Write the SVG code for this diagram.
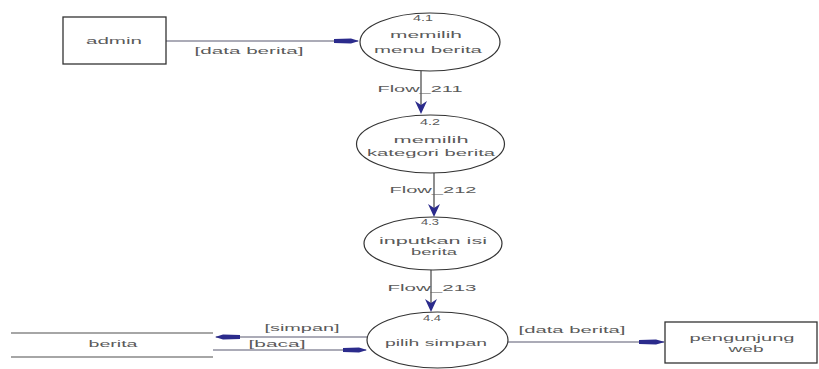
<svg xmlns="http://www.w3.org/2000/svg" width="819" height="369" viewBox="0 0 819 369">
<style>
text{font-family:"Liberation Sans",Arial,sans-serif;font-size:9.5px;fill:#5a5a5a;text-anchor:middle}
.box{fill:#fff;stroke:#333;stroke-width:1.3}
.proc{fill:#fff;stroke:#333;stroke-width:1.2}
.flow{stroke:#8f8f9f;stroke-width:1.4;fill:none}
.vflow{stroke:#444;stroke-width:1.2;fill:none}
.store{stroke:#888;stroke-width:1.5;fill:none}
.head{fill:#2b2b8c}
</style>
<rect width="819" height="369" fill="#fff"/>
<g id="connectors">
  <line class="flow" x1="166" y1="41" x2="358" y2="41"/>
  <polygon class="head" points="334,39 351,38.5 359,41 351,43.5 334,43"/>
  <text x="249" y="54" textLength="109" lengthAdjust="spacingAndGlyphs">[data berita]</text>

  <line class="vflow" x1="421" y1="71" x2="421" y2="110"/>
  <polygon class="head" points="415,101 421,105 427,101 421,114"/>
  <text x="420" y="92" textLength="85" lengthAdjust="spacingAndGlyphs">Flow_211</text>

  <line class="vflow" x1="434" y1="173" x2="434" y2="213"/>
  <polygon class="head" points="428,204 434,208 440,204 434,217"/>
  <text x="433" y="193" textLength="87" lengthAdjust="spacingAndGlyphs">Flow_212</text>

  <line class="vflow" x1="431" y1="270" x2="431" y2="308"/>
  <polygon class="head" points="425,299 431,303 437,299 431,312"/>
  <text x="432" y="291" textLength="89" lengthAdjust="spacingAndGlyphs">Flow_213</text>

  <line class="flow" x1="368" y1="337" x2="216" y2="337"/>
  <polygon class="head" points="240,335 223,334.5 215,337 223,339.5 240,339"/>
  <text x="302" y="331" textLength="75" lengthAdjust="spacingAndGlyphs">[simpan]</text>

  <line class="flow" x1="213" y1="350" x2="366" y2="350"/>
  <polygon class="head" points="343,348 359,347.5 367,350 359,352.5 343,352"/>
  <text x="277" y="347" textLength="57" lengthAdjust="spacingAndGlyphs">[baca]</text>

  <line class="flow" x1="507" y1="342" x2="664" y2="342"/>
  <polygon class="head" points="639,340 656,339.5 665,342 656,344.5 639,344"/>
  <text x="572" y="333" textLength="107" lengthAdjust="spacingAndGlyphs">[data berita]</text>
</g>
<g id="admin">
  <rect class="box" x="63" y="17" width="103" height="47"/>
  <text x="114" y="44" textLength="56" lengthAdjust="spacingAndGlyphs">admin</text>
</g>
<g id="p41">
  <ellipse class="proc" cx="430" cy="42" rx="70" ry="29"/>
  <text x="423" y="21" textLength="20" lengthAdjust="spacingAndGlyphs">4.1</text>
  <text x="426" y="38" textLength="72" lengthAdjust="spacingAndGlyphs">memilih</text>
  <text x="428" y="53" textLength="108" lengthAdjust="spacingAndGlyphs">menu berita</text>
</g>
<g id="p42">
  <ellipse class="proc" cx="430.5" cy="144" rx="74" ry="29"/>
  <text x="430" y="125" textLength="20" lengthAdjust="spacingAndGlyphs">4.2</text>
  <text x="431" y="143" textLength="75" lengthAdjust="spacingAndGlyphs">memilih</text>
  <text x="431" y="156" textLength="128" lengthAdjust="spacingAndGlyphs">kategori berita</text>
</g>
<g id="p43">
  <ellipse class="proc" cx="433" cy="243.5" rx="69" ry="26.5"/>
  <text x="430" y="225" textLength="18" lengthAdjust="spacingAndGlyphs">4.3</text>
  <text x="433" y="244" textLength="108" lengthAdjust="spacingAndGlyphs">inputkan isi</text>
  <text x="434" y="255" textLength="46" lengthAdjust="spacingAndGlyphs">berita</text>
</g>
<g id="p44">
  <ellipse class="proc" cx="437.5" cy="340" rx="70.5" ry="28"/>
  <text x="432" y="321" textLength="18" lengthAdjust="spacingAndGlyphs">4.4</text>
  <text x="436" y="346" textLength="102" lengthAdjust="spacingAndGlyphs">pilih simpan</text>
</g>
<g id="berita">
  <line class="store" x1="11" y1="333" x2="213" y2="333"/>
  <line class="store" x1="11" y1="357" x2="213" y2="357"/>
  <text x="113" y="347" textLength="49" lengthAdjust="spacingAndGlyphs">berita</text>
</g>
<g id="pengunjung">
  <rect class="box" x="665" y="322" width="152" height="41"/>
  <text x="742" y="341" textLength="105" lengthAdjust="spacingAndGlyphs">pengunjung</text>
  <text x="746" y="352" textLength="35" lengthAdjust="spacingAndGlyphs">web</text>
</g>
</svg>
